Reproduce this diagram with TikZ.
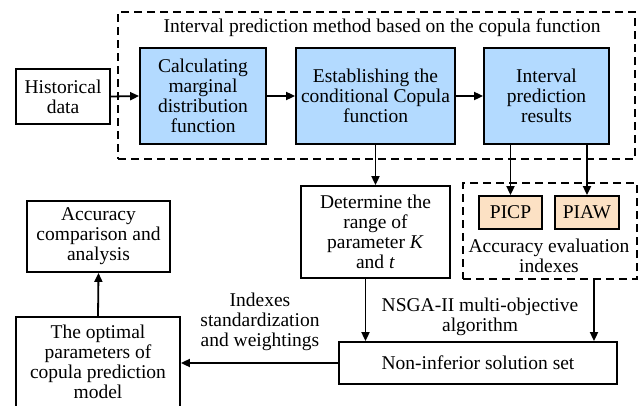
\documentclass[tikz,border=0pt]{standalone}
\usepackage{fontspec}
\setmainfont{Liberation Serif}
\usetikzlibrary{arrows.meta}
\definecolor{boxblue}{RGB}{179,218,255}
\definecolor{boxorange}{RGB}{252,225,196}
\tikzset{
  base/.style={draw=black, line width=1.8pt, align=center, inner sep=0pt,
    font=\fontsize{19.5}{20}\selectfont},
  wbox/.style={base, fill=white},
  bbox/.style={base, fill=boxblue},
  obox/.style={base, fill=boxorange},
  dbox/.style={draw=black, line width=1.8pt, dash pattern=on 8pt off 5pt, inner sep=0pt},
  lbl/.style={align=center, inner sep=0pt, font=\fontsize{19.5}{20}\selectfont},
  arr/.style={line width=1.8pt, -{Triangle[length=9pt,width=8pt]}},
}
\begin{document}
\begin{tikzpicture}[x=1pt,y=-1pt]
\useasboundingbox (0,0) rectangle (640,405);
% outer dashed group
\node[dbox, minimum width=517pt, minimum height=147pt] (grp) at (376.5,85.5) {};
\node[lbl] (title) at (382,28) {Interval prediction method based on the copula function};
% top row
\node[wbox, minimum width=94pt, minimum height=55pt] (hist) at (63,96.5) {Historical\\data};
\node[bbox, minimum width=126pt, minimum height=96pt] (calc) at (203,96) {Calculating\\marginal\\distribution\\function};
\node[bbox, minimum width=159pt, minimum height=96pt] (estab) at (375.5,96) {Establishing the\\conditional Copula\\function};
\node[bbox, minimum width=125pt, minimum height=96pt] (ipr) at (546.5,96) {Interval\\prediction\\results};
% middle
\node[wbox, minimum width=149pt, minimum height=92pt] (det) at (375.5,232) {Determine the\\range of\\parameter \textit{K}\\and \textit{t}};
\node[dbox, minimum width=174pt, minimum height=96pt] (ev) at (550,231) {};
\node[obox, minimum width=63pt, minimum height=33pt] (picp) at (510.5,212.5) {PICP};
\node[obox, minimum width=64pt, minimum height=33pt] (piaw) at (587,212.5) {PIAW};
\node[lbl] (evlbl) at (549,256) {Accuracy evaluation\\indexes};
% bottom
\node[wbox, minimum width=278pt, minimum height=42pt] (nis) at (478,363) {Non-inferior solution set};
\node[lbl] (nsga) at (480,317) {NSGA-II multi-objective\\algorithm};
\node[wbox, minimum width=143pt, minimum height=71pt] (acc) at (98.5,236.5) {Accuracy\\comparison and\\analysis};
\node[wbox, minimum width=164pt, minimum height=91pt, text depth=0pt] (opt) at (98,362.5) {};
\node[lbl] (opttxt) at (98,362) {The optimal\\parameters of\\copula prediction\\model};
\node[lbl] (idx) at (260,322) {Indexes\\standardization\\and weightings};
% connectors
\draw[arr] (hist.east) -- (calc.west);
\draw[arr] (calc.east) -- (estab.west);
\draw[arr] (estab.east) -- (ipr.west);
\draw[arr] (estab.south) -- (det.north);
\draw[arr] (picp.north |- ipr.south) -- (picp.north);
\draw[arr] (piaw.north |- ipr.south) -- (piaw.north);
\draw[arr] ([xshift=-10pt]det.south) -- ([xshift=-10pt]det.south |- nis.north);
\draw[arr] ([xshift=44pt]ev.south) -- ([xshift=44pt]ev.south |- nis.north);
\draw[arr] (nis.west) -- (nis.west -| opt.east);
\draw[arr] (opt.north) -- (acc.south);
\end{tikzpicture}
\end{document}
